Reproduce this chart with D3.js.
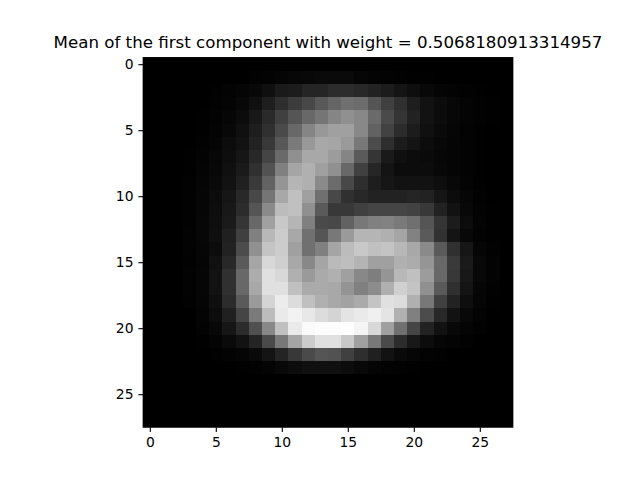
<!DOCTYPE html>
<html>
<head>
<meta charset="utf-8">
<script src="https://cdn.jsdelivr.net/npm/d3@7"></script>
<style>
  body { margin: 0; background: #fff; }
  text { font-family: "DejaVu Sans", sans-serif; }
</style>
</head>
<body>
<div id="chart"></div>
<script>
const titleText = 'Mean of the first component with weight = 0.5068180913314957';
const xTicks = [0, 5, 10, 15, 20, 25];
const yTicks = [0, 5, 10, 15, 20, 25];

// 28x28 mean image, grey levels (0 = black, 255 = white)
const intensity = [
  [0,0,0,0,0,0,0,0,0,0,0,0,0,0,0,0,0,0,0,0,0,0,0,0,0,0,0,0],
  [0,0,0,0,0,0,0,0,2,3,5,7,8,10,10,10,6,4,3,2,1,1,0,0,0,0,0,0],
  [0,0,0,0,0,1,3,5,8,15,26,28,37,37,44,44,40,34,28,20,14,8,5,3,2,1,0,0],
  [0,0,0,0,0,2,4,8,16,30,46,60,72,88,101,112,108,85,64,48,30,18,12,7,4,2,1,0],
  [0,0,0,0,1,3,6,12,24,42,64,85,104,117,133,144,136,106,74,53,34,18,12,7,4,2,1,0],
  [0,0,0,0,1,4,8,16,30,48,74,104,133,152,160,160,136,98,66,44,28,16,10,6,3,1,0,0],
  [0,0,0,0,2,5,12,18,34,56,88,122,152,168,165,154,120,76,46,28,20,12,8,5,3,1,0,0],
  [0,0,0,1,3,7,14,22,40,69,106,144,168,168,156,133,90,53,26,16,12,10,7,5,3,1,0,0],
  [0,0,0,1,4,8,16,26,48,82,128,165,176,160,144,104,64,38,20,12,12,12,8,5,3,1,0,0],
  [0,0,0,2,5,10,18,32,58,98,149,181,176,138,108,72,46,30,22,18,18,18,14,8,4,1,0,0],
  [0,0,0,2,6,12,22,40,72,117,168,192,160,112,72,48,40,34,34,34,37,34,22,12,6,2,0,0],
  [0,0,0,2,6,13,24,44,85,138,188,192,144,90,56,56,64,69,69,69,66,56,34,18,8,3,1,0],
  [0,0,0,2,7,14,26,53,104,160,200,181,128,74,72,98,120,128,130,122,112,85,53,28,12,4,1,0],
  [0,0,0,3,7,15,32,64,128,184,204,168,112,85,120,154,181,181,176,165,130,90,50,20,8,3,1,0],
  [0,0,0,3,6,12,34,76,144,196,204,160,112,128,165,188,200,192,196,184,168,138,90,48,22,6,2,0],
  [0,0,0,2,5,16,40,90,165,216,207,168,136,165,186,190,180,160,160,176,172,149,104,58,26,8,3,0],
  [0,0,0,3,6,18,48,104,172,224,216,176,154,170,176,160,136,126,149,184,192,156,104,56,24,8,3,0],
  [0,0,0,3,6,18,48,104,168,224,224,192,170,170,168,148,128,140,176,208,196,144,90,48,20,6,2,0],
  [0,0,0,2,5,15,44,90,154,212,236,220,192,176,168,162,170,196,224,220,176,120,64,34,14,5,1,0],
  [0,0,0,0,4,12,32,69,122,188,234,242,232,220,212,228,234,240,228,176,128,76,40,18,8,3,0,0],
  [0,0,0,0,3,8,22,44,80,136,192,234,250,252,253,255,245,216,160,112,69,34,18,8,4,2,0,0],
  [0,0,0,0,1,4,10,18,36,74,120,165,204,224,224,200,160,120,74,44,24,12,6,4,2,0,0,0],
  [0,0,0,0,0,1,3,5,10,20,36,56,74,85,82,64,46,32,18,10,6,3,2,0,0,0,0,0],
  [0,0,0,0,0,0,0,1,2,4,8,12,16,16,16,12,8,5,3,2,1,0,0,0,0,0,0,0],
  [0,0,0,0,0,0,0,0,0,0,0,0,0,0,0,0,0,0,0,0,0,0,0,0,0,0,0,0],
  [0,0,0,0,0,0,0,0,0,0,0,0,0,0,0,0,0,0,0,0,0,0,0,0,0,0,0,0],
  [0,0,0,0,0,0,0,0,0,0,0,0,0,0,0,0,0,0,0,0,0,0,0,0,0,0,0,0],
  [0,0,0,0,0,0,0,0,0,0,0,0,0,0,0,0,0,0,0,0,0,0,0,0,0,0,0,0]
];

const width = 640;
const height = 480;
const n = intensity.length;

// matplotlib default figure at 100 dpi: 1pt = 100/72 px
const pt = 100 / 72;

// axes box as matplotlib lays out a square image in the default figure
const plotTop = 57.6, side = 369.6;
const plotLeft = 328 - side / 2;

const svg = d3.select('#chart')
  .append('svg')
  .attr('width', width)
  .attr('height', height)
  .style('background', '#fff');

const x = d3.scaleLinear().domain([-0.5, n - 0.5]).range([plotLeft, plotLeft + side]);
const y = d3.scaleLinear().domain([-0.5, n - 0.5]).range([plotTop, plotTop + side]);

const flat = intensity.flat();
const color = d3.scaleLinear()
  .domain([d3.min(flat), d3.max(flat)])
  .range(['#000000', '#ffffff']);

const cells = intensity.flatMap((row, r) => row.map((v, c) => ({ r, c, v })));

svg.append('g')
  .attr('shape-rendering', 'crispEdges')
  .selectAll('rect')
  .data(cells)
  .join('rect')
  .attr('x', d => Math.round(x(d.c - 0.5)))
  .attr('y', d => Math.round(y(d.r - 0.5)))
  .attr('width', d => Math.round(x(d.c + 0.5)) - Math.round(x(d.c - 0.5)))
  .attr('height', d => Math.round(y(d.r + 0.5)) - Math.round(y(d.r - 0.5)))
  .attr('fill', d => color(d.v));

// frame
svg.append('rect')
  .attr('x', plotLeft)
  .attr('y', plotTop)
  .attr('width', side)
  .attr('height', side)
  .attr('fill', 'none')
  .attr('stroke', '#000')
  .attr('stroke-width', 0.8 * pt);

const tickLen = 3.5 * pt;

const xAxis = svg.append('g')
  .attr('transform', `translate(0,${plotTop + side})`)
  .call(d3.axisBottom(x).tickValues(xTicks).tickSize(tickLen).tickPadding(3.5 * pt));

const yAxis = svg.append('g')
  .attr('transform', `translate(${plotLeft},0)`)
  .call(d3.axisLeft(y).tickValues(yTicks).tickSize(tickLen).tickPadding(3.5 * pt));

[xAxis, yAxis].forEach(g => {
  g.select('.domain').remove();
  g.selectAll('line').attr('stroke', '#000').attr('stroke-width', 0.8 * pt);
  g.selectAll('text')
    .attr('fill', '#000')
    .style('font-family', '"DejaVu Sans", sans-serif')
    .style('font-size', (10 * pt) + 'px');
});

svg.append('text')
  .attr('x', plotLeft + side / 2)
  .attr('y', plotTop - 6 * pt - 1)
  .attr('text-anchor', 'middle')
  .style('font-size', (12 * pt) + 'px')
  .attr('fill', '#000')
  .text(titleText);
</script>
</body>
</html>
